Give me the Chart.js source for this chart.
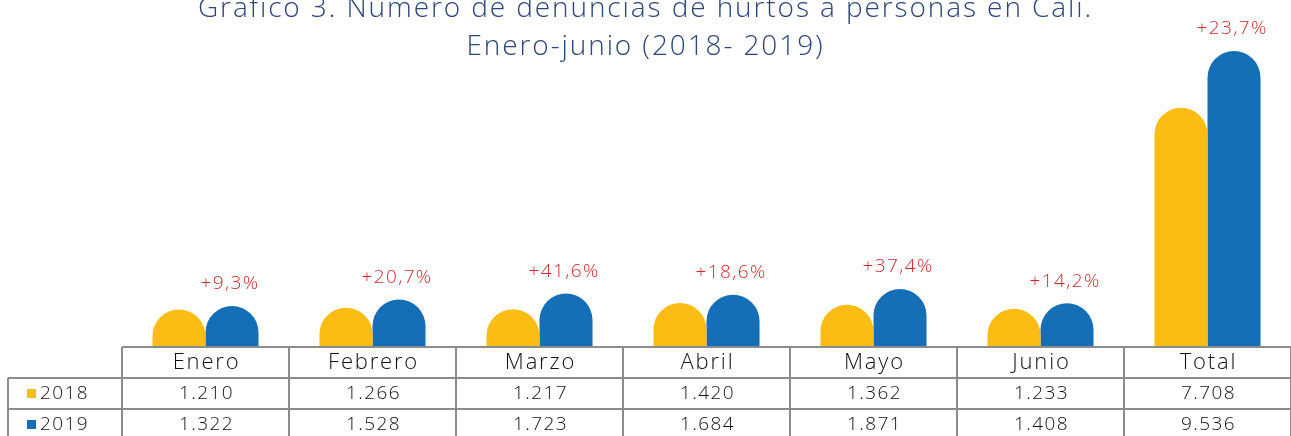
<!DOCTYPE html>
<html>
<head>
<meta charset="utf-8">
<script src="https://cdn.jsdelivr.net/npm/chart.js@4.4.1/dist/chart.umd.min.js"></script>
<style>
  body { margin: 0; background: #fff; }
  #wrap { position: relative; width: 1291px; height: 436px; overflow: hidden; }
  #title {
    position: absolute; left: 0; top: -13px; width: 1291px; text-align: center;
    font-family: "Open Sans", sans-serif; font-weight: 350; font-size: 28px;
    letter-spacing: 1.9px; line-height: 38px; color: #2b467a;
  }
</style>
</head>
<body>
<div id="wrap">
  <canvas id="chart" width="1291" height="436"></canvas>
  <div id="title">Gráfico 3. Número de denuncias de  hurtos a personas en Cali.<br>Enero-junio (2018- 2019)</div>
</div>
<script>
const months = ['Enero', 'Febrero', 'Marzo', 'Abril', 'Mayo', 'Junio', 'Total'];
const series2018 = [1210, 1266, 1217, 1420, 1362, 1233, 7708];
const series2019 = [1322, 1528, 1723, 1684, 1871, 1408, 9536];
const pctChange = [9.3, 20.7, 41.6, 18.6, 37.4, 14.2, 23.7];
const seriesNames = ['2018', '2019'];
const colors = ['#fbbd13', '#146fb6'];

const FONT = '"Open Sans", sans-serif';

function fmtNum(v) {
    return String(v).replace(/\B(?=(\d{3})+(?!\d))/g, '.');
}

// barras con la parte de arriba en semicírculo (Chart.js recorta el radio a la mitad de la altura)
const pillBars = {
    id: 'pillBars',
    beforeDatasetDraw(chart, args) {
        const ctx = chart.ctx;
        const meta = args.meta;
        ctx.save();
        ctx.fillStyle = chart.data.datasets[args.index].backgroundColor;
        meta.data.forEach(bar => {
            const p = bar.getProps(['x', 'y', 'base', 'width'], true);
            const r = p.width / 2;
            const l = p.x - r;
            ctx.beginPath();
            ctx.moveTo(l, p.base);
            ctx.lineTo(l, p.y + r);
            ctx.arc(p.x, p.y + r, r, Math.PI, 0);
            ctx.lineTo(l + p.width, p.base);
            ctx.closePath();
            ctx.fill();
        });
        ctx.restore();
        return false;
    }
};

// rótulos de variación y tabla de datos bajo las barras
const tablePlugin = {
    id: 'tablePlugin',
    afterDatasetsDraw(chart) {
        const ctx = chart.ctx;
        const x = chart.scales.x;
        const area = chart.chartArea;
        const colW = x.getPixelForValue(1) - x.getPixelForValue(0);
        const blue = chart.getDatasetMeta(1).data;

        ctx.save();
        ctx.letterSpacing = '1.4px';
        ctx.fillStyle = '#cf2a2a';
        ctx.font = '350 19px ' + FONT;
        ctx.textAlign = 'center';
        ctx.textBaseline = 'middle';
        blue.forEach((bar, i) => {
            ctx.fillText('+' + pctChange[i].toFixed(1).replace('.', ',') + '%', bar.x - 2, bar.y - 22);
        });

        const top = area.bottom;
        const rowH = 31;
        const left = 8;
        const right = chart.width + 2;

        ctx.strokeStyle = '#8c8c8c';
        ctx.lineWidth = 2;
        ctx.beginPath();
        ctx.moveTo(area.left, top); ctx.lineTo(right, top);
        ctx.moveTo(left, top + rowH); ctx.lineTo(right, top + rowH);
        ctx.moveTo(left, top + rowH * 2); ctx.lineTo(right, top + rowH * 2);
        ctx.moveTo(left, top + rowH); ctx.lineTo(left, chart.height);
        for (let i = 0; i <= months.length; i++) {
            const cx = x.getPixelForValue(0) - colW / 2 + i * colW;
            ctx.moveTo(cx, top); ctx.lineTo(cx, chart.height);
        }
        ctx.stroke();

        ctx.fillStyle = '#111';
        ctx.font = '350 22px ' + FONT;
        ctx.letterSpacing = '1.8px';
        months.forEach((m, i) => ctx.fillText(m, x.getPixelForValue(i) + 1, top + 16));

        ctx.font = '350 19px ' + FONT;
        ctx.letterSpacing = '1.4px';
        [series2018, series2019].forEach((vals, r) => {
            const cy = top + rowH * (r + 1) + 16;
            vals.forEach((v, i) => ctx.fillText(fmtNum(v), x.getPixelForValue(i) + 1, cy));
            ctx.fillStyle = colors[r];
            ctx.fillRect(27, cy - 5, 9, 9);
            ctx.fillStyle = '#111';
            ctx.textAlign = 'left';
            ctx.fillText(seriesNames[r], 40, cy);
            ctx.textAlign = 'center';
        });
        ctx.restore();
    }
};

new Chart(document.getElementById('chart'), {
    type: 'bar',
    data: {
        labels: months,
        datasets: [
            { label: seriesNames[0], data: series2018, backgroundColor: colors[0] },
            { label: seriesNames[1], data: series2019, backgroundColor: colors[1] }
        ]
    },
    options: {
        responsive: false,
        animation: false,
        layout: { padding: { left: 122, right: 0, top: 0, bottom: 89 } },
        datasets: {
            bar: {
                categoryPercentage: 0.635,
                barPercentage: 1.0
            }
        },
        scales: {
            x: { display: false },
            y: { display: false, min: 0, max: 11180 }
        },
        plugins: {
            legend: { display: false },
            tooltip: { enabled: false }
        }
    },
    plugins: [pillBars, tablePlugin]
});
</script>
</body>
</html>
